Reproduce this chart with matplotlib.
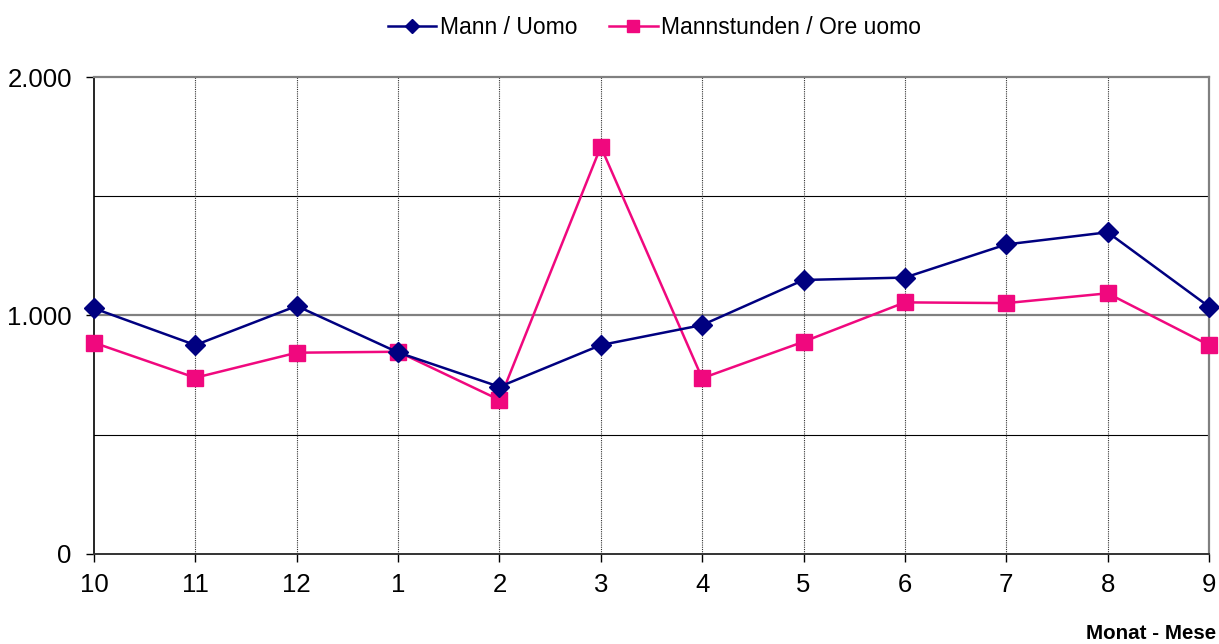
import matplotlib.pyplot as plt
from matplotlib.ticker import FuncFormatter

plt.rcParams['font.family'] = ['Liberation Sans', 'DejaVu Sans']

months = ['10', '11', '12', '1', '2', '3', '4', '5', '6', '7', '8', '9']
mann = [1030, 876, 1040, 845, 701, 876, 960, 1149, 1159, 1298, 1349, 1037]
mannstunden = [886, 739, 844, 848, 646, 1708, 737, 890, 1055, 1052, 1093, 876]

navy = '#000080'
pink = '#F0087E'

fig = plt.figure(figsize=(12.19, 6.44), dpi=100)
ax = fig.add_axes([0.0771, 0.1398, 0.9147, 0.7406])

x = range(len(months))
ax.plot(x, mann, color=navy, lw=1.8, marker='D', ms=10, mec=navy, label='Mann / Uomo',
        zorder=4, clip_on=False)
ax.plot(x, mannstunden, color=pink, lw=1.8, marker='s', ms=12, mec=pink, label='Mannstunden / Ore uomo',
        zorder=3, clip_on=False)

ax.set_xlim(0, len(months) - 1)
ax.set_ylim(0, 2000)
ax.set_xticks(list(x))
ax.set_xticklabels(months)
ax.set_yticks([0, 1000, 2000])
ax.yaxis.set_major_formatter(FuncFormatter(lambda v, p: f'{int(v):,}'.replace(',', '.')))
ax.tick_params(labelsize=18.5, direction='out', length=6, width=1)
ax.tick_params(axis='x', pad=8)
ax.tick_params(axis='y', pad=10)

# horizontal lines at 500 steps, vertical dotted lines per month
for yv in (500, 1500):
    ax.axhline(yv, color='black', lw=0.8, zorder=1)
ax.axhline(1000, color='#808080', lw=1.6, zorder=1)
for xv in range(1, len(months) - 1):
    ax.axvline(xv, color='#333333', lw=0.8, ls=(0, (1, 1)), zorder=1)

ax.spines['left'].set_color('black')
ax.spines['left'].set_linewidth(1.2)
ax.spines['bottom'].set_color('#333333')
ax.spines['bottom'].set_linewidth(1.4)
ax.spines['top'].set_color('#808080')
ax.spines['top'].set_linewidth(1.6)
ax.spines['right'].set_color('#808080')
ax.spines['right'].set_linewidth(1.6)

fig.text(0.9975, 0.002, 'Monat - Mese', ha='right', va='bottom', fontsize=14.8, fontweight='bold')

fig.legend(loc='upper center', bbox_to_anchor=(0.537, 1.007), ncol=2, frameon=False,
           fontsize=16.5, markerscale=0.75, handlelength=2.1, handletextpad=0.15, columnspacing=1.4)

fig.savefig('out.png', dpi=100)
